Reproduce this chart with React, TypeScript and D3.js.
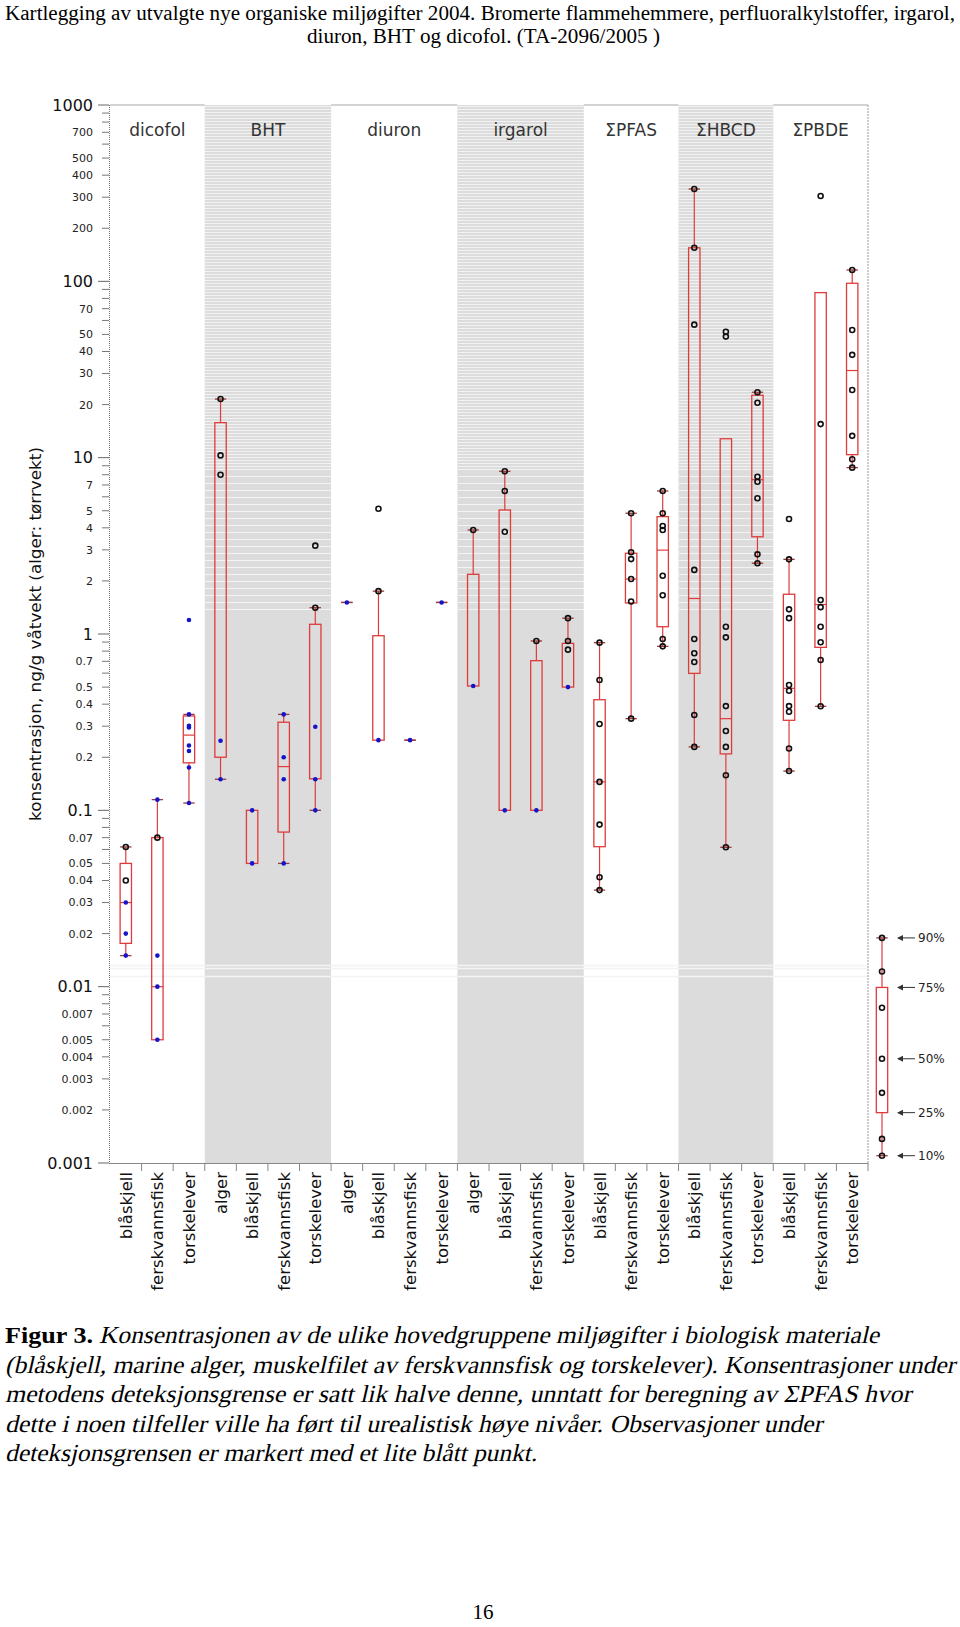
import * as d3 from "d3";

// Kolonner per panel
const panelNames = ["dicofol", "BHT", "diuron", "irgarol", "ΣPFAS", "ΣHBCD", "ΣPBDE"];
const panelSpecies = [
  ["blåskjell", "ferskvannsfisk", "torskelever"],
  ["alger", "blåskjell", "ferskvannsfisk", "torskelever"],
  ["alger", "blåskjell", "ferskvannsfisk", "torskelever"],
  ["alger", "blåskjell", "ferskvannsfisk", "torskelever"],
  ["blåskjell", "ferskvannsfisk", "torskelever"],
  ["blåskjell", "ferskvannsfisk", "torskelever"],
  ["blåskjell", "ferskvannsfisk", "torskelever"],
];
const shadedPanels = ["BHT", "irgarol", "ΣHBCD"];

// Boksplott-statistikk (ng/g), en verdi per kolonne, null = ikke tegnet
const p10 = [0.015, null, 0.11, 0.15, null, 0.05, 0.1, 1.51, null, 0.25, 1.51, null, null, null, null, 0.0353, 0.331, 0.851, 0.229, 0.0617, 2.52, 0.167, 0.389, 8.78];
const q25 = [0.0176, 0.005, 0.186, 0.2, 0.05, 0.0753, 0.151, null, 0.25, null, null, 0.507, 0.1, 0.1, 0.5, 0.0622, 1.5, 1.1, 0.598, 0.209, 3.56, 0.324, 0.84, 10.4];
const median = [0.03, 0.01, 0.267, null, null, 0.177, null, null, null, null, null, null, null, null, null, 0.145, 2.05, 2.99, 1.59, 0.331, 7.5, 0.492, 1.47, 31.2];
const q75 = [0.05, 0.07, 0.343, 15.8, 0.1, 0.316, 1.135, null, 0.978, null, null, 2.18, 5.05, 0.706, 0.885, 0.424, 2.87, 4.63, 155, 12.8, 22.6, 1.68, 86.3, 97.5];
const p90 = [0.062, 0.115, 0.35, 21.5, null, 0.35, 1.41, 1.51, 1.75, 0.25, 1.51, 3.89, 8.37, 0.913, 1.23, 0.893, 4.84, 6.47, 334, null, 23.5, 2.65, null, 116];

// Enkeltobservasjoner: over deteksjonsgrensen (svart ring) og under (blått punkt)
const detected = [
  [0.062, 0.04],
  [0.07],
  [],
  [21.5, 10.3, 8.0],
  [],
  [],
  [3.17, 1.41],
  [],
  [5.13, 1.75],
  [],
  [],
  [3.89],
  [8.37, 6.47, 3.8],
  [0.913],
  [1.23, 0.913, 0.815],
  [0.893, 0.548, 0.309, 0.145, 0.083, 0.0417, 0.0353],
  [4.84, 2.91, 2.66, 2.05, 1.53, 0.331],
  [6.47, 4.84, 4.1, 3.89, 2.14, 1.66, 0.937, 0.851],
  [334, 155, 56.8, 2.31, 0.937, 0.777, 0.694, 0.347, 0.229],
  [51.8, 48.6, 1.1, 0.957, 0.39, 0.282, 0.229, 0.158, 0.0617],
  [23.5, 20.5, 7.8, 7.3, 5.89, 2.83, 2.52],
  [4.49, 2.65, 1.38, 1.23, 0.514, 0.477, 0.39, 0.362, 0.224, 0.167],
  [305, 15.5, 1.56, 1.42, 1.1, 0.897, 0.712, 0.389],
  [116, 53, 38.3, 24.2, 13.3, 9.8, 8.78],
];
const belowDL = [
  [0.03, 0.02, 0.015],
  [0.115, 0.015, 0.01, 0.005],
  [1.2, 0.35, 0.302, 0.295, 0.233, 0.217, 0.175, 0.11],
  [0.248, 0.15],
  [0.1, 0.05],
  [0.35, 0.2, 0.15, 0.05],
  [0.298, 0.15, 0.1],
  [1.51],
  [0.25],
  [0.25],
  [1.51],
  [0.507],
  [0.1],
  [0.1],
  [0.5],
  [], [], [], [], [], [], [], [], [],
];

// Forklaringsboks (persentiler)
const legendStats = [0.0189, 0.0099, 0.0039, 0.00193, 0.0011];
const legendLabels = ["90%", "75%", "50%", "25%", "10%"];
const legendPoints = [0.0189, 0.0122, 0.0076, 0.0039, 0.0025, 0.00137, 0.0011];

// Y-akse
const majorTicks = [1000, 100, 10, 1, 0.1, 0.01, 0.001];
const majorLabels = ["1000", "100", "10", "1", "0.1", "0.01", "0.001"];
const minorMultipliers = [2, 3, 4, 5, 6, 7, 8, 9];
const labelledMultipliers = [2, 3, 4, 5, 7];

const headerLines = [
  "Kartlegging av utvalgte nye organiske miljøgifter 2004. Bromerte flammehemmere, perfluoralkylstoffer, irgarol,",
  "diuron, BHT og dicofol. (TA-2096/2005 )",
];
const captionLabel = "Figur 3.";
const captionLines = [
  "Konsentrasjonen av de ulike hovedgruppene miljøgifter i biologisk materiale",
  "(blåskjell, marine alger, muskelfilet av ferskvannsfisk og torskelever). Konsentrasjoner under",
  "metodens deteksjonsgrense er satt lik halve denne, unntatt for beregning av ΣPFAS  hvor",
  "dette i noen tilfeller ville ha ført til urealistisk høye nivåer. Observasjoner under",
  "deteksjonsgrensen er markert med et lite blått punkt.",
];
const captionStarts = [99, 5, 5, 5, 5];
const captionEnds = [879, 955, 911, 822, 537];

const W = 960;
const H = 1627;
const left = 110;
const right = 868;
const top = 105;
const bottom = 1163;

const fmt = (v: number) => {
  const s = v.toPrecision(1);
  return v < 1 ? String(+s) : String(Math.round(v));
};

export default function App() {
  const columns = panelNames.flatMap((p, i) => panelSpecies[i].map((s) => `${p}|${s}`));
  const x = d3.scaleBand().domain(columns).range([left, right]);
  const y = d3.scaleLog().domain([0.001, 1000]).range([bottom, top]);
  const bw = x.bandwidth();
  const boxW = bw * 0.36;
  const capW = bw * 0.36;

  const red = "#df3b3b";
  const capColor = "#9b3a3a";
  const sans = "'DejaVu Sans', Verdana, sans-serif";
  const serif = "'Liberation Serif', 'Times New Roman', serif";

  // panel-grenser
  let cursor = 0;
  const panels = panelNames.map((name, i) => {
    const first = columns[cursor];
    const last = columns[cursor + panelSpecies[i].length - 1];
    cursor += panelSpecies[i].length;
    return { name, x0: x(first)!, x1: x(last)! + bw };
  });

  const minorTicks: number[] = [];
  majorTicks.slice(1).forEach((d) => minorMultipliers.forEach((m) => minorTicks.push(d * m)));

  const denseStripes = d3.range(top + 1, 472, 3);
  const sparseStripes = d3.range(476, 616, 7);
  const lowStripes = [965, 968, 976];

  const legendX = right + 14;

  return (
    <svg width={W} height={H} style={{ position: "absolute", left: 0, top: 0, display: "block" }}>
      <rect width={W} height={H} fill="#fff" />

      {/* topptekst */}
      <text x={5} y={20} fontFamily={serif} fontSize={20.5} textLength={950} lengthAdjust="spacingAndGlyphs" fill="#000">
        {headerLines[0]}
      </text>
      <text x={307} y={43} fontFamily={serif} fontSize={20.5} textLength={353} lengthAdjust="spacingAndGlyphs" fill="#000">
        {headerLines[1]}
      </text>

      {/* panelbakgrunn */}
      {panels.map((p) =>
        shadedPanels.includes(p.name) ? (
          <g key={"bg" + p.name}>
            <rect x={p.x0} y={top} width={p.x1 - p.x0} height={bottom - top} fill="#dcdcdc" />
            {denseStripes.map((s) => (
              <line key={s} x1={p.x0} x2={p.x1} y1={s + 0.5} y2={s + 0.5} stroke="#f2f2f2" strokeWidth={1} />
            ))}
            {sparseStripes.map((s) => (
              <line key={s} x1={p.x0} x2={p.x1} y1={s + 0.5} y2={s + 0.5} stroke="#f4f4f4" strokeWidth={1} />
            ))}
            {lowStripes.map((s) => (
              <line key={s} x1={p.x0} x2={p.x1} y1={s + 0.5} y2={s + 0.5} stroke="#f4f4f4" strokeWidth={1.5} />
            ))}
          </g>
        ) : (
          <g key={"bg" + p.name}>
            <line x1={p.x0} x2={p.x1} y1={top} y2={top} stroke="#c4c4c4" strokeWidth={1.5} />
            {lowStripes.map((s) => (
              <line key={s} x1={p.x0} x2={p.x1} y1={s + 0.5} y2={s + 0.5} stroke="#f3f3f3" strokeWidth={1.5} />
            ))}
          </g>
        )
      )}
      <line x1={right} x2={right} y1={top} y2={bottom} stroke="#9a9a9a" strokeDasharray="2,1" />

      {/* paneltitler */}
      {panels.map((p) => (
        <text key={"t" + p.name} x={(p.x0 + p.x1) / 2} y={136} textAnchor="middle" fontFamily={sans} fontSize={17} fill="#333">
          {p.name}
        </text>
      ))}

      {/* y-akse */}
      <line x1={left - 0.5} x2={left - 0.5} y1={top} y2={bottom} stroke="#777" strokeDasharray="1,1" />
      {minorTicks.map((v) => (
        <line key={"mt" + v} x1={left - 8} x2={left - 1} y1={y(v)} y2={y(v)} stroke="#777" strokeWidth={1} />
      ))}
      {majorTicks.map((v) => (
        <line key={"Mt" + v} x1={left - 12} x2={left - 1} y1={y(v)} y2={y(v)} stroke="#666" strokeWidth={1} />
      ))}
      {majorTicks.map((v, i) => (
        <text key={"Ml" + v} x={93} y={y(v)} dy="0.36em" textAnchor="end" fontFamily={sans} fontSize={16} fill="#111">
          {majorLabels[i]}
        </text>
      ))}
      {minorTicks
        .filter((v) => labelledMultipliers.some((m) => Math.abs(v / m - Math.pow(10, Math.round(Math.log10(v / m)))) < 1e-9 * v))
        .map((v) => (
          <text key={"ml" + v} x={93} y={y(v)} dy="0.36em" textAnchor="end" fontFamily={sans} fontSize={11} fill="#222">
            {fmt(v)}
          </text>
        ))}
      <text
        transform={`translate(41,${y(1)}) rotate(-90)`}
        textAnchor="middle"
        fontFamily={sans}
        fontSize={16}
        textLength={374}
        lengthAdjust="spacingAndGlyphs"
        fill="#111"
      >
        konsentrasjon, ng/g våtvekt (alger: tørrvekt)
      </text>

      {/* x-akse */}
      <line x1={left - 1} x2={right} y1={bottom + 0.5} y2={bottom + 0.5} stroke="#888" />
      {columns.map((c) => (
        <line key={"xt" + c} x1={x(c)! + bw} x2={x(c)! + bw} y1={bottom} y2={bottom + 8} stroke="#888" />
      ))}
      {columns.map((c) => (
        <text
          key={"xl" + c}
          transform={`translate(${x(c)! + bw / 2 + 6},${bottom + 9}) rotate(-90)`}
          textAnchor="end"
          fontFamily={sans}
          fontSize={16.5}
          fill="#111"
        >
          {c.split("|")[1]}
        </text>
      ))}

      {/* boksplott */}
      {columns.map((c, i) => {
        const cx = x(c)! + bw / 2;
        const hasBox = q25[i] != null && q75[i] != null;
        return (
          <g key={"b" + c}>
            {hasBox && p90[i] != null && (
              <line x1={cx} x2={cx} y1={y(q75[i]!)} y2={y(p90[i]!)} stroke={red} strokeWidth={1.2} />
            )}
            {hasBox && p10[i] != null && (
              <line x1={cx} x2={cx} y1={y(q25[i]!)} y2={y(p10[i]!)} stroke={red} strokeWidth={1.2} />
            )}
            {hasBox && (
              <rect
                x={cx - boxW / 2}
                y={y(q75[i]!)}
                width={boxW}
                height={y(q25[i]!) - y(q75[i]!)}
                fill="none"
                stroke={red}
                strokeWidth={1.3}
              />
            )}
            {hasBox && median[i] != null && (
              <line x1={cx - boxW / 2} x2={cx + boxW / 2} y1={y(median[i]!)} y2={y(median[i]!)} stroke={red} strokeWidth={1.2} />
            )}
            {p90[i] != null && (
              <line x1={cx - capW / 2} x2={cx + capW / 2} y1={y(p90[i]!)} y2={y(p90[i]!)} stroke={capColor} strokeWidth={1.3} />
            )}
            {p10[i] != null && (
              <line x1={cx - capW / 2} x2={cx + capW / 2} y1={y(p10[i]!)} y2={y(p10[i]!)} stroke={capColor} strokeWidth={1.3} />
            )}
            {detected[i].map((v, k) => (
              <circle key={"d" + k} cx={cx} cy={y(v)} r={2.5} fill="none" stroke="#111" strokeWidth={1.6} />
            ))}
            {belowDL[i].map((v, k) => (
              <circle key={"u" + k} cx={cx} cy={y(v)} r={2.3} fill="#1414c8" />
            ))}
          </g>
        );
      })}

      {/* forklaring */}
      <g>
        <line x1={legendX} x2={legendX} y1={y(legendStats[0])} y2={y(legendStats[1])} stroke={red} strokeWidth={1.2} />
        <line x1={legendX} x2={legendX} y1={y(legendStats[3])} y2={y(legendStats[4])} stroke={red} strokeWidth={1.2} />
        <rect
          x={legendX - boxW / 2}
          y={y(legendStats[1])}
          width={boxW}
          height={y(legendStats[3]) - y(legendStats[1])}
          fill="none"
          stroke={red}
          strokeWidth={1.3}
        />
        <line x1={legendX - capW / 2} x2={legendX + capW / 2} y1={y(legendStats[0])} y2={y(legendStats[0])} stroke={capColor} strokeWidth={1.3} />
        <line x1={legendX - capW / 2} x2={legendX + capW / 2} y1={y(legendStats[4])} y2={y(legendStats[4])} stroke={capColor} strokeWidth={1.3} />
        {legendPoints.map((v, k) => (
          <circle key={"lp" + k} cx={legendX} cy={y(v)} r={2.5} fill="none" stroke="#111" strokeWidth={1.6} />
        ))}
        {legendStats.map((v, k) => (
          <g key={"la" + k}>
            <line x1={legendX + 16} x2={legendX + 33} y1={y(v)} y2={y(v)} stroke="#333" strokeWidth={1} />
            <path d={`M${legendX + 15},${y(v)} l6,-3 l0,6 z`} fill="#333" />
            <text x={legendX + 36} y={y(v)} dy="0.36em" fontFamily={sans} fontSize={12} fill="#222">
              {legendLabels[k]}
            </text>
          </g>
        ))}
      </g>

      {/* figurtekst */}
      <text x={5} y={1343} fontFamily={serif} fontSize={24} fontWeight="bold" textLength={88} lengthAdjust="spacingAndGlyphs" fill="#000">
        {captionLabel}
      </text>
      {captionLines.map((line, i) => (
        <text
          key={"c" + i}
          transform={`translate(${captionStarts[i]},${1343 + i * 29.5}) skewX(-13)`}
          fontFamily={serif}
          fontSize={24.5}
          textLength={captionEnds[i] - captionStarts[i]}
          lengthAdjust="spacingAndGlyphs"
          fill="#000"
        >
          {line}
        </text>
      ))}

      <text x={483} y={1619} textAnchor="middle" fontFamily={serif} fontSize={21} fill="#000">
        16
      </text>
    </svg>
  );
}
